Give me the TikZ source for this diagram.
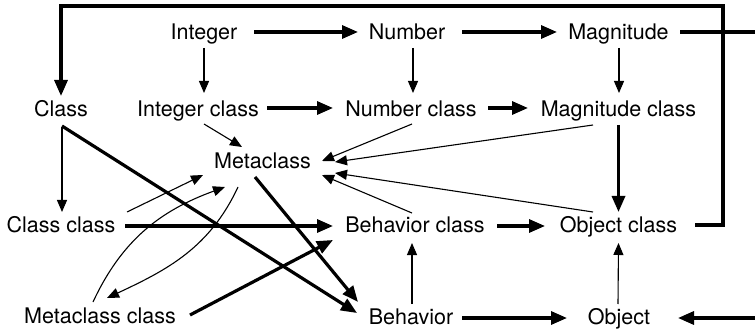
\documentclass[tikz,border=0pt]{standalone}
\usepackage{fontspec}
\setmainfont{TeX Gyre Heros}
\usetikzlibrary{arrows.meta}
\tikzset{
  lbl/.style={anchor=base, inner sep=0pt, font=\fontsize{21.5}{26}\selectfont},
  inh/.style={line width=3.2pt, -{Triangle[length=16pt,width=13pt]}},
  inst/.style={line width=1.1pt, -{Triangle[length=12pt,width=10pt]}},
  inhline/.style={line width=3.2pt},
}
\begin{document}
\begin{tikzpicture}[x=1pt,y=-1pt]
\useasboundingbox (0,0) rectangle (755,331);

% classes
\node[lbl] (integer)   at (204,40)    {Integer};
\node[lbl] (number)    at (407,40)    {Number};
\node[lbl] (magnitude) at (618.5,40)  {Magnitude};
\node[lbl] (behavior)  at (411,324)   {Behavior};
\node[lbl] (object)    at (619,324)   {Object};
\node[lbl] (class)     at (61,117)    {Class};
\node[lbl] (metaclass) at (262.5,169) {Metaclass};

% metaclasses
\node[lbl] (intcls)  at (198,117)   {Integer class};
\node[lbl] (numcls)  at (411,117)   {Number class};
\node[lbl] (magcls)  at (618.5,117) {Magnitude class};
\node[lbl] (clscls)  at (61,233)    {Class class};
\node[lbl] (behcls)  at (415,233)   {Behavior class};
\node[lbl] (objcls)  at (618.5,233) {Object class};
\node[lbl] (metacls) at (100,323)   {Metaclass class};

% corners and exits of the outer superclass lines
\coordinate (frameNE) at (723,6);
\coordinate (eastTop) at (755,32);
\coordinate (eastBot) at (755,318);

% superclass chain of the classes
\draw[inh] ([shift={(50,-8)}]integer.base) -- ([shift={(-49,-8)}]number.base);
\draw[inh] ([shift={(55,-8)}]number.base) -- ([shift={(-61.5,-8)}]magnitude.base);
\draw[inhline] ([shift={(61.5,-8)}]magnitude.base) -- (eastTop);
\draw[inh] (eastBot) -- ([shift={(59,-6)}]object.base);
\draw[inh] ([shift={(51,-6)}]behavior.base) -- ([shift={(-52,-6)}]object.base);
\draw[inh] ([shift={(1,9)}]class.base) -- ([shift={(-54,-11)}]behavior.base);
\draw[inh] ([shift={(-7.5,8)}]metaclass.base) -- ([shift={(-53,-22)}]behavior.base);

% superclass chain of the metaclasses
\draw[inh] ([shift={(69,-9)}]intcls.base) -- ([shift={(-78,-9)}]numcls.base);
\draw[inh] ([shift={(77,-9)}]numcls.base) -- ([shift={(-90.5,-9)}]magcls.base);
\draw[inh] ([shift={(0,8)}]magcls.base) -- ([shift={(0,-21)}]objcls.base);
\draw[inh] ([shift={(64,-7)}]clscls.base) -- ([shift={(-82,-7)}]behcls.base);
\draw[inh] ([shift={(90,-8)}]metacls.base) -- ([shift={(-82,7)}]behcls.base);
\draw[inh] ([shift={(82,-7)}]behcls.base) -- ([shift={(-73.5,-7)}]objcls.base);
\draw[inh,line cap=butt] ([shift={(76.5,-8)}]objcls.base) -| (frameNE) -| ([shift={(0,-21)}]class.base);

% instance-of links
\draw[inst] ([shift={(0,8)}]integer.base) -- ([shift={(6,-24)}]intcls.base);
\draw[inst] ([shift={(6,8)}]number.base) -- ([shift={(2,-24)}]numcls.base);
\draw[inst] ([shift={(0.5,8)}]magnitude.base) -- ([shift={(0.5,-24)}]magcls.base);
\draw[inst] ([shift={(1,10)}]class.base) -- ([shift={(1,-21)}]clscls.base);
\draw[inst] ([shift={(1,-20)}]behavior.base) -- ([shift={(-3,10)}]behcls.base);
\draw[inst] ([shift={(-1,-20)}]object.base) -- ([shift={(0,10)}]objcls.base);

% every metaclass is an instance of Metaclass
\draw[inst] ([shift={(6,7)}]intcls.base) -- ([shift={(-20.5,-22)}]metaclass.base);
\draw[inst] ([shift={(1,7)}]numcls.base) -- ([shift={(59.5,-8)}]metaclass.base);
\draw[inst] ([shift={(-25.5,8)}]magcls.base) -- ([shift={(72.5,-7)}]metaclass.base);
\draw[inst] ([shift={(-3,-20)}]behcls.base) -- ([shift={(59.5,6)}]metaclass.base);
\draw[inst] ([shift={(-25.5,-21)}]objcls.base) -- ([shift={(72.5,4)}]metaclass.base);
\draw[inst] ([shift={(66,-21)}]clscls.base) -- ([shift={(-59.5,6)}]metaclass.base);
\draw[inst] ([shift={(-7,-21)}]metacls.base) to[out=65,in=200] ([shift={(-37.5,18)}]metaclass.base);
\draw[inst] ([shift={(-24.5,18)}]metaclass.base) to[out=245,in=25] ([shift={(7,-25)}]metacls.base);
\end{tikzpicture}
\end{document}
